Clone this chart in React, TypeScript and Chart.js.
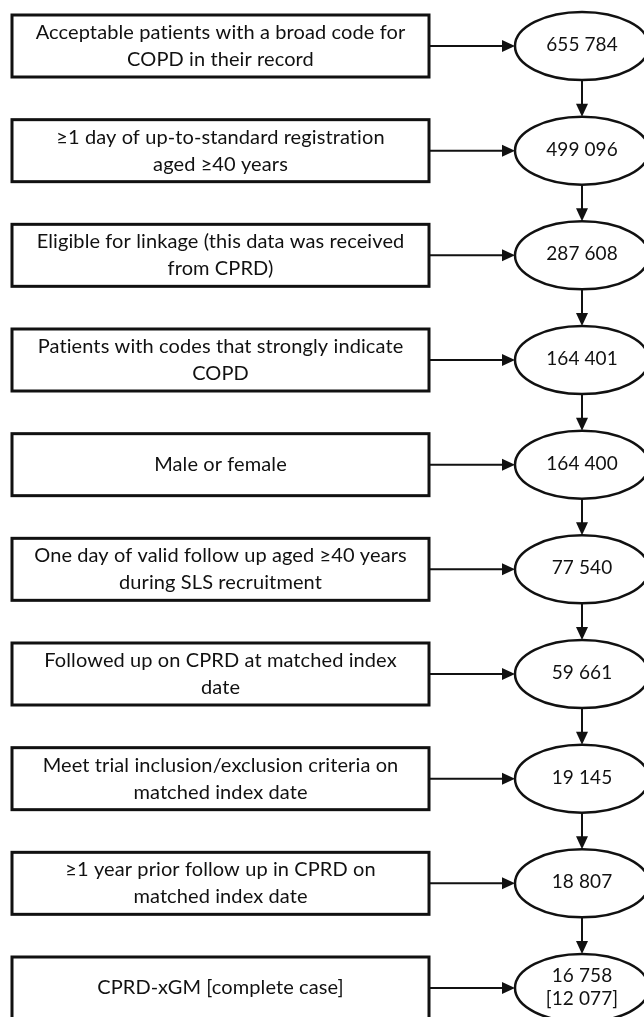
import React, { useEffect, useRef } from "react";
import { Chart, registerables } from "chart.js";

Chart.register(...registerables);

const stepLabels: string[][] = [
  ["Acceptable patients with a broad code for", "COPD in their record"],
  ["\u22651 day of up-to-standard registration", "aged \u226540 years"],
  ["Eligible for linkage (this data was received", "from CPRD)"],
  ["Patients with codes that strongly indicate", "COPD"],
  ["Male or female"],
  ["One day of valid follow up aged \u226540 years", "during SLS recruitment"],
  ["Followed up on CPRD at matched index", "date"],
  ["Meet trial inclusion/exclusion criteria on", "matched index date"],
  ["\u22651 year prior follow up in CPRD on", "matched index date"],
  ["CPRD-xGM [complete case]"],
];

const patientCounts: number[] = [655784, 499096, 287608, 164401, 164400, 77540, 59661, 19145, 18807, 16758];
const completeCaseCount: number[] = [12077];

const fmt = (n: number) => String(n).replace(/\B(?=(\d{3})+(?!\d))/g, " ");

const W = 644;
const H = 1017;
const BOX_L = 12;
const BOX_R = 429;
const BOX_H = 62;
const ELL_X = 582;
const ELL_RX = 67;
const ELL_RY = 34;
const FONT = "Lato, 'Open Sans', sans-serif";

const flowPlugin = {
  id: "flow",
  afterDatasetsDraw(chart: any) {
    const ctx = chart.ctx as CanvasRenderingContext2D;
    const meta = chart.getDatasetMeta(0);
    const pts = meta.data as any[];
    ctx.save();
    ctx.strokeStyle = "#111";
    ctx.fillStyle = "#111";
    ctx.textAlign = "center";
    ctx.textBaseline = "middle";
    (ctx as any).letterSpacing = "0.1px";
    const arrowHead = (x: number, y: number, dir: "right" | "down") => {
      ctx.beginPath();
      if (dir === "right") {
        ctx.moveTo(x, y);
        ctx.lineTo(x - 13, y - 6);
        ctx.lineTo(x - 13, y + 6);
      } else {
        ctx.moveTo(x, y);
        ctx.lineTo(x - 6, y - 13);
        ctx.lineTo(x + 6, y - 13);
      }
      ctx.closePath();
      ctx.fill();
    };
    pts.forEach((p, i) => {
      const cx = p.x;
      const cy = p.y;
      // box
      ctx.lineWidth = 3;
      ctx.strokeRect(BOX_L, cy - BOX_H / 2, BOX_R - BOX_L, BOX_H);
      ctx.font = `20px ${FONT}`;
      const lines = stepLabels[i];
      const lh = 27;
      const bx = (BOX_L + BOX_R) / 2;
      lines.forEach((t, k) => {
        ctx.fillText(t, bx, cy - ((lines.length - 1) * lh) / 2 + k * lh);
      });
      // ellipse
      ctx.lineWidth = 2.5;
      ctx.beginPath();
      ctx.ellipse(cx, cy, ELL_RX, ELL_RY, 0, 0, Math.PI * 2);
      ctx.stroke();
      const nums = [fmt(patientCounts[i])];
      if (i === pts.length - 1) nums.push(`[${fmt(completeCaseCount[0])}]`);
      ctx.font = `19px ${FONT}`;
      const nlh = 23;
      nums.forEach((t, k) => {
        ctx.fillText(t, cx, cy - ((nums.length - 1) * nlh) / 2 + k * nlh - 1);
      });
      // horizontal arrow
      const ex = cx - ELL_RX;
      ctx.lineWidth = 2;
      ctx.beginPath();
      ctx.moveTo(BOX_R, cy);
      ctx.lineTo(ex - 10, cy);
      ctx.stroke();
      arrowHead(ex, cy, "right");
      // vertical arrow to next
      if (i < pts.length - 1) {
        const ny = pts[i + 1].y;
        ctx.beginPath();
        ctx.moveTo(cx, cy + ELL_RY);
        ctx.lineTo(cx, ny - ELL_RY - 10);
        ctx.stroke();
        arrowHead(cx, ny - ELL_RY, "down");
      }
    });
    ctx.restore();
  },
};

export default function App() {
  const ref = useRef<HTMLCanvasElement | null>(null);
  useEffect(() => {
    document.body.style.margin = "0";
    document.body.style.background = "#fff";
    const canvas = ref.current!;
    const unit = (988 - 46) / 9;
    const yMin = -46 / unit;
    const yMax = yMin + H / unit;
    const chart = new Chart(canvas, {
      type: "scatter",
      data: {
        datasets: [
          {
            data: patientCounts.map((_, i) => ({ x: ELL_X, y: i })),
            pointRadius: 0,
            pointHoverRadius: 0,
          },
        ],
      },
      options: {
        animation: false,
        responsive: false,
        maintainAspectRatio: false,
        layout: { padding: 0 },
        plugins: { legend: { display: false }, tooltip: { enabled: false } },
        events: [],
        scales: {
          x: { type: "linear", min: 0, max: W, display: false },
          y: { type: "linear", min: yMin, max: yMax, reverse: true, display: false },
        },
      },
      plugins: [flowPlugin],
    });
    return () => chart.destroy();
  }, []);
  return (
    <div style={{ position: "absolute", left: 0, top: 0, width: W, height: H, background: "#fff" }}>
      <canvas ref={ref} width={W} height={H} style={{ width: W, height: H, display: "block" }} />
    </div>
  );
}
